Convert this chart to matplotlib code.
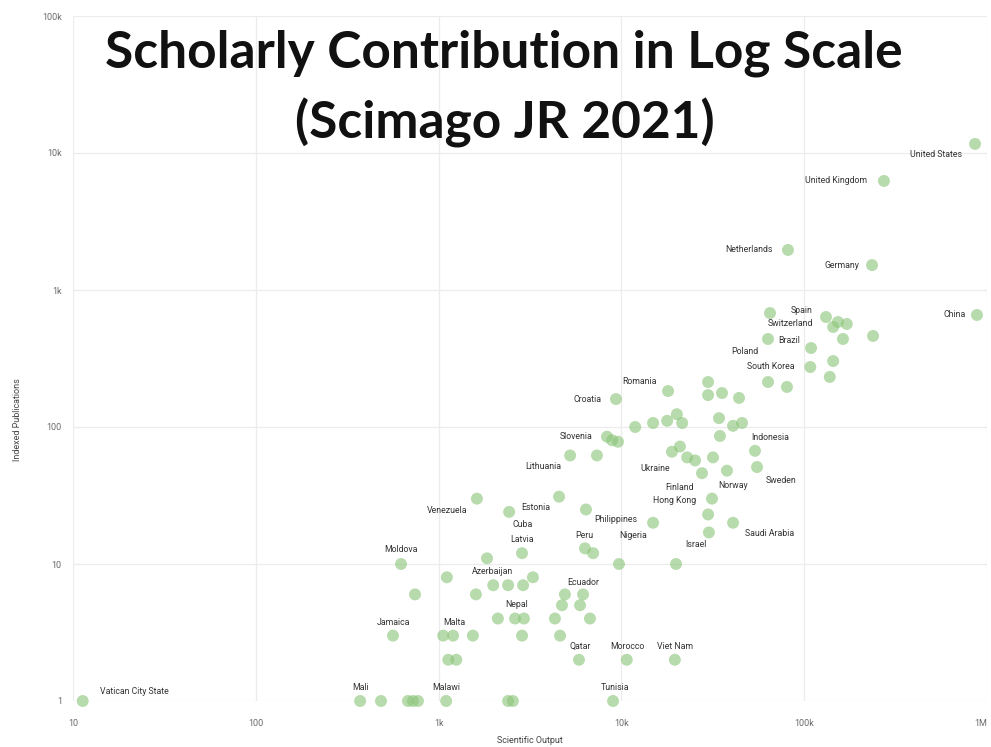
import matplotlib
matplotlib.use("Agg")
import matplotlib.pyplot as plt
from matplotlib.ticker import FixedLocator, FixedFormatter, NullLocator

# Scientific output (x) vs. indexed publications (y), Scimago JR 2021
countries = [
    "United States", "United Kingdom", "Netherlands", "Germany", "China",
    "Spain", "Switzerland", "Brazil", "Poland", "South Korea",
    "Romania", "Croatia", "Slovenia", "Indonesia", "Lithuania",
    "Ukraine", "Finland", "Norway", "Sweden", "Hong Kong",
    "Saudi Arabia", "Israel", "Philippines", "Nigeria", "Peru",
    "Venezuela", "Estonia", "Cuba", "Latvia", "Moldova",
    "Azerbaijan", "Ecuador", "Nepal", "Jamaica", "Malta",
    "Qatar", "Morocco", "Viet Nam", "Vatican City State", "Mali",
    "Malawi", "Tunisia",
]
labeled_output = [
    860000, 273000, 81500, 235000, 881000,
    131600, 144000, 109000, 63400, 108000,
    18000, 9340, 8340, 53800, 5240,
    18900, 27600, 37800, 55200, 31300,
    40800, 30100, 14900, 9700, 6320,
    1620, 4560, 2430, 2860, 623,
    1990, 6170, 2620, 563, 1200,
    5860, 10700, 19600, 11.3, 372,
    1100, 9000,
]
labeled_indexed = [
    11650, 6250, 1960, 1520, 657,
    635, 537, 377, 439, 274,
    183, 160, 85, 67, 62,
    66, 46, 48, 51, 30,
    20, 17, 20, 10, 13,
    30, 31, 24, 12, 10,
    7, 6, 4, 3, 3,
    2, 2, 2, 1, 1,
    1, 1,
]

# Countries shown without a name tag
other_output = [
    153000, 171000, 238000, 163000, 65000, 144000, 138000, 63400, 80500,
    29800, 29800, 35500, 44000,
    11900, 14900, 17800, 20100, 21500, 34200, 34600, 40800, 45700,
    8890, 9580, 7350, 20900, 22900, 25300, 31700,
    29800, 6400, 1840, 7000, 19900,
    1110, 743, 1600, 2400, 2900, 3280, 4910, 4730, 5940,
    2110, 2930, 4330, 6730, 1060, 1540, 2860, 4620, 1130, 1250,
    484, 680, 724, 771, 2400, 2550,
]
other_indexed = [
    584, 565, 462, 439, 679, 303, 232, 213, 196,
    213, 171, 177, 163,
    100, 107, 111, 124, 107, 116, 86, 102, 107,
    80, 78, 62, 72, 60, 57, 60,
    23, 25, 11, 12, 10,
    8, 6, 6, 7, 7, 8, 6, 5, 5,
    4, 4, 4, 4, 3, 3, 3, 3, 2, 2,
    1, 1, 1, 1, 1, 1,
]

x_ticks = [10, 100, 1e3, 1e4, 1e5, 1e6]
x_tick_labels = ["10", "100", "1k", "10k", "100k", "1M"]
y_ticks = [1, 10, 100, 1e3, 1e4, 1e5]
y_tick_labels = ["1", "10", "100", "1k", "10k", "100k"]

# Where each name tag sits relative to its dot (pixels)
label_offsets = {
    "United States": (-39, -11), "United Kingdom": (-48, 0),
    "Netherlands": (-39, 0), "Germany": (-30, 0), "China": (-22, 0),
    "Spain": (-24, 7), "Switzerland": (-43, 3), "Brazil": (-22, 8),
    "Poland": (-23, -13), "South Korea": (-40, 1), "Romania": (-29, 10),
    "Croatia": (-28, 0), "Slovenia": (-31, 0), "Indonesia": (15, 13),
    "Lithuania": (-27, -11), "Ukraine": (-17, -17), "Finland": (-22, -14),
    "Norway": (6, -15), "Sweden": (24, -13), "Hong Kong": (-37, -2),
    "Saudi Arabia": (37, -11), "Israel": (-13, -12),
    "Philippines": (-37, 3), "Nigeria": (14, 29), "Peru": (-1, 13),
    "Venezuela": (-30, -12), "Estonia": (-23, -11), "Cuba": (14, -13),
    "Latvia": (0, 14), "Moldova": (0, 15), "Azerbaijan": (-1, 14),
    "Ecuador": (0, 12), "Nepal": (2, 14), "Jamaica": (0, 13),
    "Malta": (1, 13), "Qatar": (1, 13), "Morocco": (1, 13),
    "Viet Nam": (0, 13), "Vatican City State": (52, 10), "Mali": (0, 14),
    "Malawi": (0, 14), "Tunisia": (2, 14),
}

W, H = 991, 747
fig = plt.figure(figsize=(W / 100, H / 100), dpi=100)
fig.patch.set_facecolor("white")

left_px, right_px, top_px, bottom_px = 73, 987, 16, 701
ax = fig.add_axes([left_px / W, 1 - bottom_px / H,
                   (right_px - left_px) / W, (bottom_px - top_px) / H])
ax.set_xscale("log")
ax.set_yscale("log")
ax.set_xlim(10, 1e6)
ax.set_ylim(1, 1e5)

for s in ax.spines.values():
    s.set_visible(False)

ax.xaxis.set_major_locator(FixedLocator(x_ticks))
ax.xaxis.set_major_formatter(FixedFormatter(x_tick_labels))
ax.yaxis.set_major_locator(FixedLocator(y_ticks))
ax.yaxis.set_major_formatter(FixedFormatter(y_tick_labels))
ax.xaxis.set_minor_locator(NullLocator())
ax.yaxis.set_minor_locator(NullLocator())
ax.tick_params(axis="both", length=0, labelsize=6.5, labelcolor="#6a6a6a",
               labelfontfamily="Roboto")
ax.tick_params(axis="x", pad=13)
ax.tick_params(axis="y", pad=8)
ax.grid(True, color="#ececec", linewidth=0.9)
ax.set_axisbelow(True)

# keep the last x tick label inside the canvas
fig.canvas.draw()
ax.get_xticklabels()[-1].set_horizontalalignment("right")

dot_color = "#8cc57a"
ax.scatter(other_output, other_indexed, s=74, color=dot_color, alpha=0.62,
           edgecolors="none", clip_on=False, zorder=3)
ax.scatter(labeled_output, labeled_indexed, s=74, color=dot_color, alpha=0.62,
           edgecolors="none", clip_on=False, zorder=3)

for name, xv, yv in zip(countries, labeled_output, labeled_indexed):
    dx, dy = label_offsets[name]
    ax.annotate(name, (xv, yv), xytext=(dx, dy), textcoords="offset pixels",
                ha="center", va="center", fontsize=6.3, color="#333333",
                family="Roboto", zorder=4, annotation_clip=False)

ax.set_xlabel("Scientific Output", fontsize=6.5, color="#444444",
              family="Roboto", labelpad=6)
fig.text(18 / W, 1 - 420 / H, "Indexed Publications", rotation=90,
         ha="center", va="center", fontsize=6.5, color="#444444",
         family="Roboto")

fig.text(504 / W, 1 - 53 / H, "Scholarly Contribution in Log Scale",
         ha="center", va="center", fontsize=37, fontweight="bold",
         color="#111111", family="Lato")
fig.text(505 / W, 1 - 123 / H, "(Scimago JR 2021)",
         ha="center", va="center", fontsize=37, fontweight="bold",
         color="#111111", family="Lato")

fig.savefig("out.png", dpi=100, facecolor="white")
